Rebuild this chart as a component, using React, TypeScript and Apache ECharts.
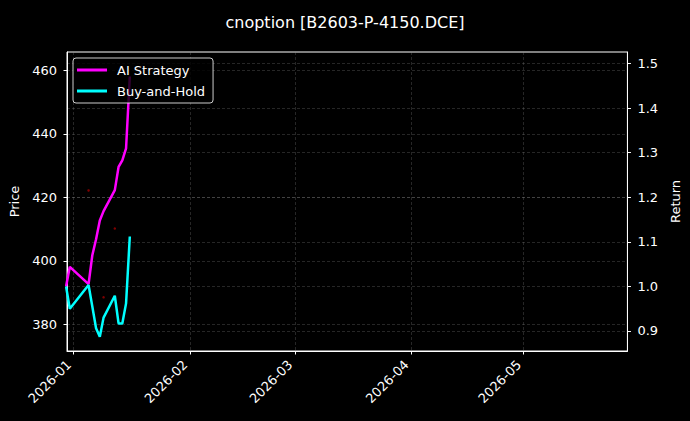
import React, { useEffect, useRef } from 'react'
import * as echarts from 'echarts'

// trading days shown on the chart
const dates = [
  '2025-12-30', '2025-12-31', '2026-01-05', '2026-01-06', '2026-01-07', '2026-01-08',
  '2026-01-09', '2026-01-12', '2026-01-13', '2026-01-14', '2026-01-15', '2026-01-16',
]
const aiStrategy = [1.0, 1.044, 1.005, 1.07, 1.106, 1.148, 1.169, 1.216, 1.268, 1.283, 1.31, 1.471]
const buyAndHold = [1.0, 0.95, 1.003, 0.955, 0.906, 0.887, 0.93, 0.979, 0.917, 0.917, 0.962, 1.112]

// small trade markers on the price axis
const tradeDates = ['2026-01-05', '2026-01-09', '2026-01-12']
const tradePrices = [422.2, 388.5, 410.2]

const priceTicks = [380, 400, 420, 440, 460]
const returnTicks = [0.9, 1.0, 1.1, 1.2, 1.3, 1.4, 1.5]
const monthTicks = ['2026-01-01', '2026-02-01', '2026-03-01', '2026-04-01', '2026-05-01']

const FONT = 'DejaVu Sans'
const gridLine = { show: true, lineStyle: { color: 'rgba(150,150,150,0.32)', type: [3, 2], width: 0.8 } }

const toTs = (s: string) => new Date(s + 'T00:00:00').getTime()
const HOUR = 3600 * 1000

const App: React.FC = () => {
  const chartRef = useRef<HTMLDivElement>(null)

  useEffect(() => {
    document.body.style.margin = '0'
    if (!chartRef.current) return
    const chart = echarts.init(chartRef.current, null, { renderer: 'svg' })
    const monthTs = monthTicks.map(toTs)

    chart.setOption({
      animation: false,
      backgroundColor: '#000000',
      textStyle: { fontFamily: FONT },
      title: {
        text: 'cnoption [B2603-P-4150.DCE]',
        left: 'center',
        top: 9,
        textStyle: { color: '#ffffff', fontSize: 16, fontWeight: 'normal', fontFamily: FONT },
      },
      legend: {
        data: ['AI Strategy', 'Buy-and-Hold'],
        orient: 'vertical',
        left: 73,
        top: 58,
        padding: [4, 8, 4, 4],
        itemGap: 5,
        itemWidth: 30,
        itemHeight: 3,
        icon: 'rect',
        backgroundColor: 'rgba(0,0,0,0.8)',
        borderColor: 'rgba(255,255,255,0.8)',
        borderWidth: 1,
        borderRadius: 3,
        textStyle: { color: '#ffffff', fontSize: 13, lineHeight: 16, padding: [0, 0, 0, 5], fontFamily: FONT },
      },
      grid: {
        left: 67, right: 61, top: 52, bottom: 70,
        show: true, borderColor: '#ffffff', borderWidth: 1, backgroundColor: 'transparent',
      },
      xAxis: {
        type: 'value',
        min: toTs('2025-12-30') + 6 * HOUR,
        max: toTs('2026-05-28') + 17 * HOUR,
        axisLine: { show: true, onZero: false, lineStyle: { color: '#ffffff' } },
        axisTick: { show: true, length: 3.5, lineStyle: { color: '#ffffff' }, customValues: monthTs },
        axisLabel: {
          customValues: monthTs,
          rotate: 45,
          verticalAlign: 'bottom',
          margin: 16,
          color: '#ffffff',
          fontSize: 13,
          fontFamily: FONT,
          formatter: (v: number) => {
            const d = new Date(v)
            return `${d.getFullYear()}-${String(d.getMonth() + 1).padStart(2, '0')}`
          },
        },
        splitLine: gridLine,
      },
      yAxis: [
        {
          type: 'value',
          name: 'Price',
          nameLocation: 'middle',
          nameRotate: 90,
          nameGap: 43,
          nameTextStyle: { color: '#ffffff', fontSize: 13, fontFamily: FONT },
          min: 371.6,
          max: 465.8,
          axisLine: { show: true, lineStyle: { color: '#ffffff' } },
          axisTick: { show: true, length: 3.5, lineStyle: { color: '#ffffff' }, customValues: priceTicks },
          axisLabel: { customValues: priceTicks, color: '#ffffff', fontSize: 13, margin: 10, fontFamily: FONT },
          splitLine: gridLine,
        },
        {
          type: 'value',
          name: 'Return',
          position: 'right',
          nameLocation: 'middle',
          nameRotate: 90,
          nameGap: 30,
          nameTextStyle: { color: '#ffffff', fontSize: 13, fontFamily: FONT },
          min: 0.8551,
          max: 1.526,
          axisLine: { show: true, lineStyle: { color: '#ffffff' } },
          axisTick: { show: true, length: 3.5, lineStyle: { color: '#ffffff' }, customValues: returnTicks },
          axisLabel: {
            customValues: returnTicks, color: '#ffffff', fontSize: 13, margin: 10, fontFamily: FONT,
            formatter: (v: number) => v.toFixed(1),
          },
          splitLine: gridLine,
        },
      ],
      series: [
        {
          name: 'Trades',
          type: 'scatter',
          yAxisIndex: 0,
          symbolSize: 2.5,
          itemStyle: { color: '#a00000' },
          data: tradeDates.map((d, i) => [toTs(d), tradePrices[i]]),
        },
        {
          name: 'AI Strategy',
          type: 'line',
          yAxisIndex: 1,
          showSymbol: false,
          lineStyle: { color: '#ff00ff', width: 2.5 },
          itemStyle: { color: '#ff00ff' },
          data: dates.map((d, i) => [toTs(d), aiStrategy[i]]),
        },
        {
          name: 'Buy-and-Hold',
          type: 'line',
          yAxisIndex: 1,
          showSymbol: false,
          lineStyle: { color: '#00ffff', width: 2.5 },
          itemStyle: { color: '#00ffff' },
          data: dates.map((d, i) => [toTs(d), buyAndHold[i]]),
        },
      ],
    })

    return () => {
      chart.dispose()
    }
  }, [])

  return <div ref={chartRef} style={{ width: 690, height: 421 }} />
}

export default App
